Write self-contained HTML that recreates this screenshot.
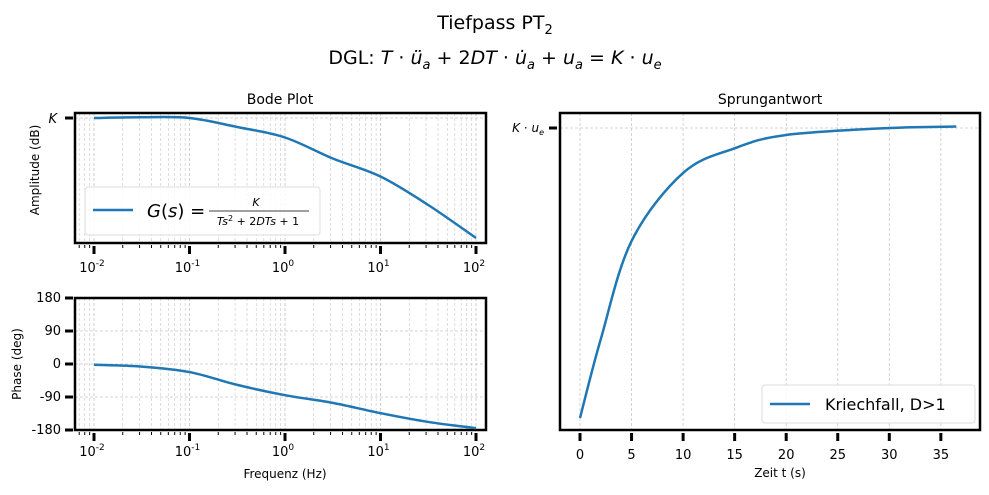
<!DOCTYPE html>
<html><head><meta charset="utf-8"><style>
html,body{margin:0;padding:0;background:#fff}
svg{display:block;font-family:"DejaVu Sans","Liberation Sans",sans-serif}
</style></head><body>
<svg id="fig" width="989" height="495" viewBox="0 0 989 495" xmlns="http://www.w3.org/2000/svg">
<text x="495" y="29" text-anchor="middle" font-size="19">Tiefpass PT<tspan font-size="13" dy="5">2</tspan></text>
<text x="495" y="64" text-anchor="middle" font-size="19">DGL: <tspan font-style="italic">T</tspan> · <tspan font-style="italic">ü</tspan><tspan font-size="13" dy="5" font-style="italic">a</tspan><tspan dy="-5"> + 2</tspan><tspan font-style="italic">DT</tspan> · <tspan font-style="italic">u̇</tspan><tspan font-size="13" dy="5" font-style="italic">a</tspan><tspan dy="-5"> + </tspan><tspan font-style="italic">u</tspan><tspan font-size="13" dy="5" font-style="italic">a</tspan><tspan dy="-5"> = </tspan><tspan font-style="italic">K</tspan> · <tspan font-style="italic">u</tspan><tspan font-size="13" dy="5" font-style="italic">e</tspan></text>
<g id="g"></g>
</svg>
<script>
// ---- data ----
const ampFreqExp = [-2,-1.5,-1,-0.5,0,0.5,1,1.5,2];
const ampDb = [0,0.5,0,-6,-13,-27,-39,-58,-80];
const phaseFreqExp = [-2,-1.5,-1,-0.5,0,0.5,1,1.5,2];
const phaseDeg = [-2,-7,-22,-57,-85,-106,-134,-158,-175];
const phaseTicks = [180,90,0,-90,-180];
const stepT = [0,2,5,10,15,20,30,36.5];
const stepY = [0,0.27,0.61,0.845,0.93,0.976,1.0,1.005];
const stepTicks = [0,5,10,15,20,25,30,35];
const decades = [-2,-1,0,1,2];

const NS="http://www.w3.org/2000/svg";
const g=document.getElementById('g');
function el(t,a,p){const e=document.createElementNS(NS,t);for(const k in a)e.setAttribute(k,a[k]);(p||g).appendChild(e);return e;}
const xLog=e=>94+(e+2)*95.5;
const yAmp=d=>118-d*1.5;
const yPh=d=>364-d*(132/360);
const xT=t=>580+t*10.31;
const yS=v=>418-v*290;
const BLUE="#1f77b4";
function smooth(pts){let d="M"+pts[0][0]+","+pts[0][1];for(let i=0;i<pts.length-1;i++){const p0=pts[i-1]||pts[i],p1=pts[i],p2=pts[i+1],p3=pts[i+2]||p2;
d+=" C"+(p1[0]+(p2[0]-p0[0])/6)+","+(p1[1]+(p2[1]-p0[1])/6)+" "+(p2[0]-(p3[0]-p1[0])/6)+","+(p2[1]-(p3[1]-p1[1])/6)+" "+p2[0]+","+p2[1];}return d;}
function frame(x0,y0,x1,y1,name){
  const r=el('rect',{x:x0,y:y0,width:x1-x0,height:y1-y0,fill:'none',stroke:'#000','stroke-width':2.5});
  
  
}
function grid(x1,y1,x2,y2,w){const l=el('line',{x1,y1,x2,y2,stroke:'#c8c8c8','stroke-width':w||0.8,'stroke-dasharray':'3,2'});

}
function txt(x,y,s,a){const t=el('text',Object.assign({x,y,'font-size':12},a||{}));t.textContent=s;return t;}

const A={x0:75,y0:113,x1:486,y1:243};
const P={x0:75,y0:298,x1:486,y1:430};
[A,P].forEach(ax=>{
  for(let d=-3;d<=2;d++)for(let m=1;m<=9;m++){const x=xLog(d+Math.log10(m));if(x>ax.x0+1&&x<ax.x1-1)grid(x,ax.y0,x,ax.y1,m==1?0.9:0.6);}
});
grid(A.x0,yAmp(0),A.x1,yAmp(0));
phaseTicks.forEach(v=>grid(P.x0,yPh(v),P.x1,yPh(v)));
frame(A.x0,A.y0,A.x1,A.y1,'amplitude-axes');
frame(P.x0,P.y0,P.x1,P.y1,'phase-axes');
let t=txt(280,104,'Bode Plot',{'text-anchor':'middle','font-size':14});


el('line',{x1:65,y1:yAmp(0),x2:73,y2:yAmp(0),stroke:'#000','stroke-width':3});
t=txt(57,123,'K',{'text-anchor':'end','font-style':'italic','font-size':13});


t=txt(0,0,'Amplitude (dB)',{'text-anchor':'middle','transform':'translate(39,170) rotate(-90)'});


[[A,262],[P,446]].forEach(([ax,ly])=>{
  for(let d=-3;d<=2;d++)for(let m=2;m<=9;m++){const x=xLog(d+Math.log10(m));if(x>ax.x0&&x<ax.x1)el('line',{x1:x,y1:ax.y1+2,x2:x,y2:ax.y1+5,stroke:'#000','stroke-width':1});}
  decades.forEach(d=>{const x=xLog(d);el('line',{x1:x,y1:ax.y1+3,x2:x,y2:ax.y1+11,stroke:'#000','stroke-width':3});
    const tt=txt(x-2,ly+10,'10',{'text-anchor':'middle','font-size':13});
    
    
    const s=el('tspan',{'font-size':9,dy:-6},tt);s.textContent=String(d);});
});
let p=el('path',{d:smooth(ampFreqExp.map((e,i)=>[xLog(e),yAmp(ampDb[i])])),fill:'none',stroke:BLUE,'stroke-width':2.5});


let lg=el('g',{});


el('rect',{x:85,y:187,width:235,height:48,rx:3,fill:'#fff','fill-opacity':0.85,stroke:'#ddd'},lg);
el('line',{x1:93,y1:210,x2:133,y2:210,stroke:BLUE,'stroke-width':2.5},lg);
let lt=el('text',{x:147,y:217,'font-size':18},lg);lt.innerHTML='<tspan font-style="italic">G</tspan>(<tspan font-style="italic">s</tspan>) =';
t=el('text',{x:256,y:206,'font-size':11,'font-style':'italic','text-anchor':'middle'},lg);t.textContent='K';
el('line',{x1:209,y1:211,x2:309,y2:211,stroke:'#000','stroke-width':0.8},lg);
t=el('text',{x:258,y:225,'font-size':11,'text-anchor':'middle'},lg);t.innerHTML='<tspan font-style="italic">Ts</tspan><tspan font-size="8" dy="-4">2</tspan><tspan dy="4"> + 2</tspan><tspan font-style="italic">DTs</tspan> + 1';

phaseTicks.forEach(v=>{const y=yPh(v);el('line',{x1:65,y1:y,x2:73,y2:y,stroke:'#000','stroke-width':3});
  const tt=txt(61,y+4,String(v),{'text-anchor':'end','font-size':13});
  
  });
t=txt(0,0,'Phase (deg)',{'text-anchor':'middle','transform':'translate(21,364) rotate(-90)'});


t=txt(285,478,'Frequenz (Hz)',{'text-anchor':'middle'});


p=el('path',{d:smooth(phaseFreqExp.map((e,i)=>[xLog(e),yPh(phaseDeg[i])])),fill:'none',stroke:BLUE,'stroke-width':2.5});



const S={x0:560,y0:113,x1:980,y1:430};
stepTicks.forEach(v=>grid(xT(v),S.y0,xT(v),S.y1));
grid(S.x0,yS(1),S.x1,yS(1));
frame(S.x0,S.y0,S.x1,S.y1,'step-axes');
t=txt(770,104,'Sprungantwort',{'text-anchor':'middle','font-size':14});


el('line',{x1:549,y1:yS(1),x2:557,y2:yS(1),stroke:'#000','stroke-width':3});
t=txt(544,yS(1)+4,'',{'text-anchor':'end'});t.innerHTML='<tspan font-style="italic">K</tspan> · <tspan font-style="italic">u</tspan><tspan font-size="8" dy="3" font-style="italic">e</tspan>';


stepTicks.forEach(v=>{const x=xT(v);el('line',{x1:x,y1:S.y1+3,x2:x,y2:S.y1+11,stroke:'#000','stroke-width':3});
  const tt=txt(x,459,String(v),{'text-anchor':'middle','font-size':13});
  
  });
t=txt(780,477,'Zeit t (s)',{'text-anchor':'middle'});


p=el('path',{d:smooth(stepT.map((v,i)=>[xT(v),yS(stepY[i])])),fill:'none',stroke:BLUE,'stroke-width':2.5});


lg=el('g',{});


el('rect',{x:762,y:385,width:213,height:38,rx:3,fill:'#fff','fill-opacity':0.85,stroke:'#ddd'},lg);
el('line',{x1:770,y1:404,x2:810,y2:404,stroke:BLUE,'stroke-width':2.5},lg);
t=el('text',{x:825,y:410,'font-size':16},lg);t.textContent='Kriechfall, D>1';
</script>
</body></html>
